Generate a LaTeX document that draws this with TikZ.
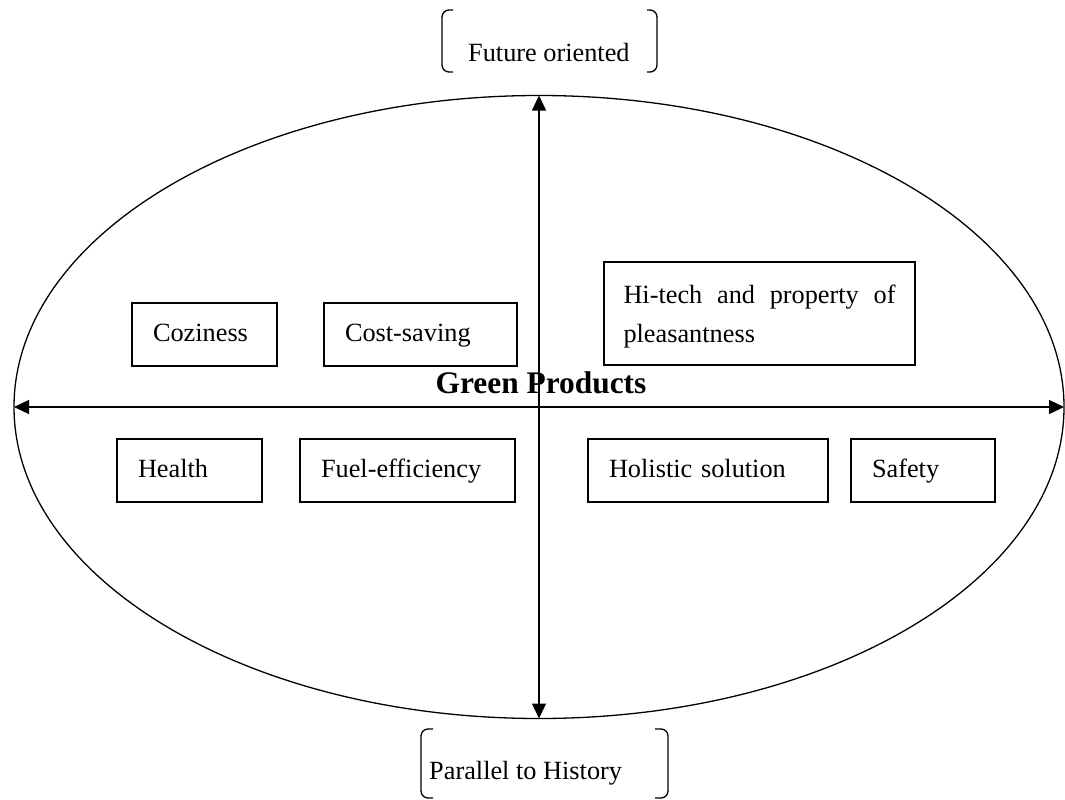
\documentclass[tikz,border=0pt]{standalone}
\usepackage{fontspec}
\setmainfont{Liberation Serif}
\usetikzlibrary{shapes.geometric,arrows.meta}
\tikzset{
  cell/.style={draw, line width=1.5pt, anchor=north west, outer sep=0pt, inner xsep=21pt,
               align=left, text height=19pt, text depth=5pt, minimum height=63pt,
               font=\fontsize{26.3}{39}\selectfont},
  axe/.style={line width=1.3pt, {Triangle[length=15pt,width=14pt]}-{Triangle[length=15pt,width=14pt]}},
  crochet/.style={line width=1.3pt, rounded corners=7pt},
  legende/.style={anchor=base west, inner sep=0pt, font=\fontsize{26.3}{30}\selectfont}
}
\begin{document}
\begin{tikzpicture}[x=1pt,y=-1pt]
                          \useasboundingbox (0,0) rectangle (1065,800);
                          \node[ellipse, draw, line width=1.3pt, inner sep=0pt, outer sep=0pt,
                                minimum width=1050pt, minimum height=623pt] (champ) at (539,407) {};
                          \draw[axe] (champ.west) -- (champ.east);
                          \draw[axe] (champ.north) -- (champ.south);
                          \node[anchor=base, font=\fontsize{31.4}{36}\selectfont\bfseries] (titre) at (541,393) {Green Products};
                          % premiere rangee
                          \node[cell, text width=103pt] (confort) at (132,303) {Coziness};
                          \node[cell, text width=151pt] (economie) at (324,303) {Cost-saving};
                          \node[cell, text width=272pt, inner xsep=19.5pt, minimum height=103pt, text depth=40pt,
                                align=justify] (hitech) at (604,262) {Hi-tech and property of\linebreak pleasantness};
                          % deuxieme rangee
                          \node[cell, text width=103pt] (sante) at (117,439) {Health};
                          \node[cell, text width=173pt] (carburant) at (300,439) {Fuel-efficiency};
                          \node[cell, text width=198pt] (solution) at (588,439) {Holistic solution};
                          \node[cell, text width=102pt] (securite) at (851,439) {Safety};
                          % les deux etiquettes et leurs crochets
                          \node[legende] (futur) at (468,62) {Future oriented};
                          \draw[crochet] (453,10) -- (442,10) -- (442,72) -- (453,72);
                          \draw[crochet] (647,10) -- (657,10) -- (657,72) -- (647,72);
                          \node[legende] (histoire) at (429,779) {Parallel to History};
                          \draw[crochet] (433,729) -- (421,729) -- (421,798) -- (433,798);
                          \draw[crochet] (655,729) -- (668,729) -- (668,798) -- (655,798);
\end{tikzpicture}
\end{document}
